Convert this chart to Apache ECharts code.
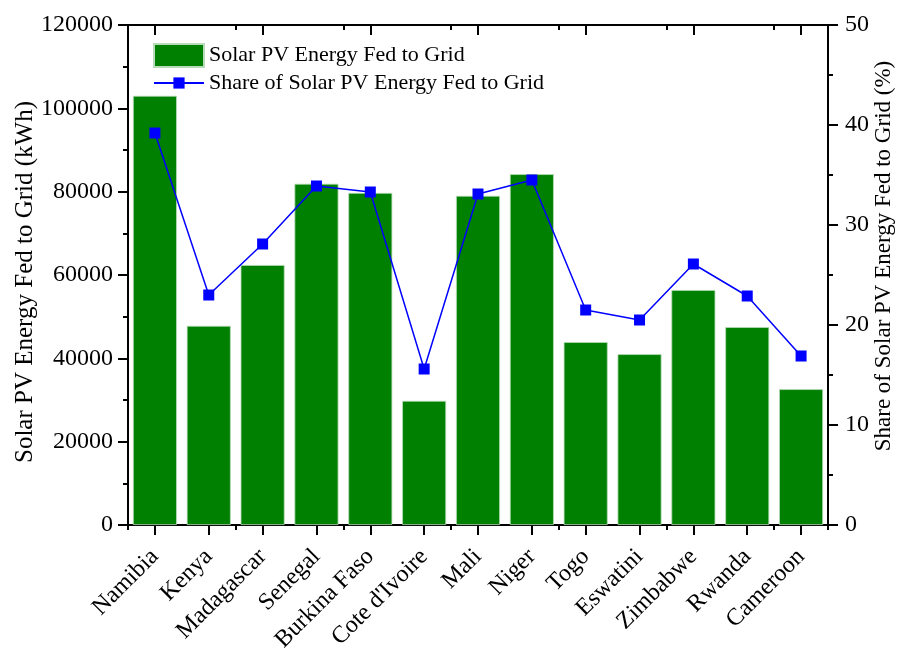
<!DOCTYPE html>
<html>
<head>
<meta charset="utf-8">
<script src="https://cdn.jsdelivr.net/npm/echarts@6/dist/echarts.min.js"></script>
<style>
  html, body { margin: 0; padding: 0; background: #fff; }
  #chart { width: 898px; height: 648px; }
</style>
</head>
<body>
<div id="chart"></div>
<script>
// Countries along the x axis
const countries = ['Namibia', 'Kenya', 'Madagascar', 'Senegal', 'Burkina Faso', "Cote d'Ivoire",
  'Mali', 'Niger', 'Togo', 'Eswatini', 'Zimbabwe', 'Rwanda', 'Cameroon'];
// Solar PV energy fed to grid (kWh)
const energyFed = [103000, 47800, 62400, 81900, 79700, 29800, 79000, 84200, 43900, 41000, 56400, 47500, 32600];
// Share of solar PV energy fed to grid (%)
const shareFed = [39.2, 23.0, 28.1, 33.9, 33.3, 15.6, 33.1, 34.5, 21.5, 20.5, 26.1, 22.9, 16.9];

const leftTicks = { min: 0, max: 120000, interval: 20000 };
const rightTicks = { min: 0, max: 50, interval: 10 };

const FONT = 'Liberation Serif';
const FS = 24;
const BLACK = '#000';

const chart = echarts.init(document.getElementById('chart'), null, { renderer: 'canvas' });

const axisLine = { show: true, onZero: false, lineStyle: { color: BLACK, width: 2 } };

// Category axis; centre ticks (long) and boundary ticks (short) come from two stacked axes
function categoryAxis(position, showLabels, centerTicks, len, inside) {
  return {
    type: 'category',
    data: countries,
    position: position,
    boundaryGap: true,
    axisLine: axisLine,
    axisTick: { show: true, alignWithLabel: centerTicks, inside: inside, length: len,
                lineStyle: { color: BLACK, width: 2 } },
    axisLabel: showLabels ? { show: true, rotate: 45, margin: 28, interval: 0,
                fontFamily: FONT, fontSize: FS, color: BLACK } : { show: false },
    splitLine: { show: false }
  };
}

const option = {
  backgroundColor: '#fff',
  animation: false,
  grid: { left: 128, right: 70, top: 25, bottom: 123, containLabel: false, outerBoundsMode: 'none' },
  legend: [
    {
      data: ['Solar PV Energy Fed to Grid'],
      left: 148, top: 38, orient: 'vertical', icon: 'rect',
      itemWidth: 50, itemHeight: 23, itemGap: 4,
      textStyle: { fontFamily: FONT, fontSize: 22, color: BLACK }
    },
    {
      data: ['Share of Solar PV Energy Fed to Grid'],
      left: 148, top: 67, orient: 'vertical',
      itemWidth: 50, itemHeight: 14, itemGap: 4,
      textStyle: { fontFamily: FONT, fontSize: 22, color: BLACK }
    }
  ],
  xAxis: [
    categoryAxis('bottom', true, true, 10, false),
    categoryAxis('bottom', false, false, 5, false),
    categoryAxis('top', false, true, 10, true),
    categoryAxis('top', false, false, 5, true)
  ],
  yAxis: [
    {
      type: 'value', position: 'left',
      min: leftTicks.min, max: leftTicks.max, interval: leftTicks.interval,
      name: 'Solar PV Energy Fed to Grid (kWh)',
      nameLocation: 'middle', nameGap: 90, nameRotate: 90, nameMoveOverlap: false,
      nameTextStyle: { fontFamily: FONT, fontSize: 25, color: BLACK, padding: [0, 14, 0, 0] },
      axisLine: axisLine,
      axisTick: { show: true, length: 10, lineStyle: { color: BLACK, width: 2 } },
      minorTick: { show: true, splitNumber: 2, length: 5, lineStyle: { color: BLACK, width: 2 } },
      axisLabel: { margin: 15, fontFamily: FONT, fontSize: FS, color: BLACK,
                   formatter: v => String(v) },
      splitLine: { show: false }
    },
    {
      type: 'value', position: 'right',
      min: rightTicks.min, max: rightTicks.max, interval: rightTicks.interval,
      name: 'Share of Solar PV Energy Fed to Grid (%)',
      nameLocation: 'middle', nameGap: 44, nameRotate: 90, nameMoveOverlap: false,
      nameTextStyle: { fontFamily: FONT, fontSize: 23, color: BLACK, padding: [0, 0, 0, 38] },
      axisLine: axisLine,
      axisTick: { show: true, length: 10, lineStyle: { color: BLACK, width: 2 } },
      minorTick: { show: true, splitNumber: 2, length: 5, lineStyle: { color: BLACK, width: 2 } },
      axisLabel: { margin: 17, fontFamily: FONT, fontSize: FS, color: BLACK },
      splitLine: { show: false }
    }
  ],
  series: [
    {
      name: 'Solar PV Energy Fed to Grid',
      type: 'bar',
      xAxisIndex: 0, yAxisIndex: 0,
      data: energyFed,
      barWidth: 44,
      itemStyle: { color: '#008000', borderColor: '#b8dcb8', borderWidth: 0.8 }
    },
    {
      name: 'Share of Solar PV Energy Fed to Grid',
      type: 'line',
      xAxisIndex: 0, yAxisIndex: 1,
      data: shareFed,
      symbol: 'rect', symbolSize: 11,
      lineStyle: { color: '#0000ff', width: 1.5 },
      itemStyle: { color: '#0000ff' },
      z: 5
    }
  ]
};

chart.setOption(option);
</script>
</body>
</html>
